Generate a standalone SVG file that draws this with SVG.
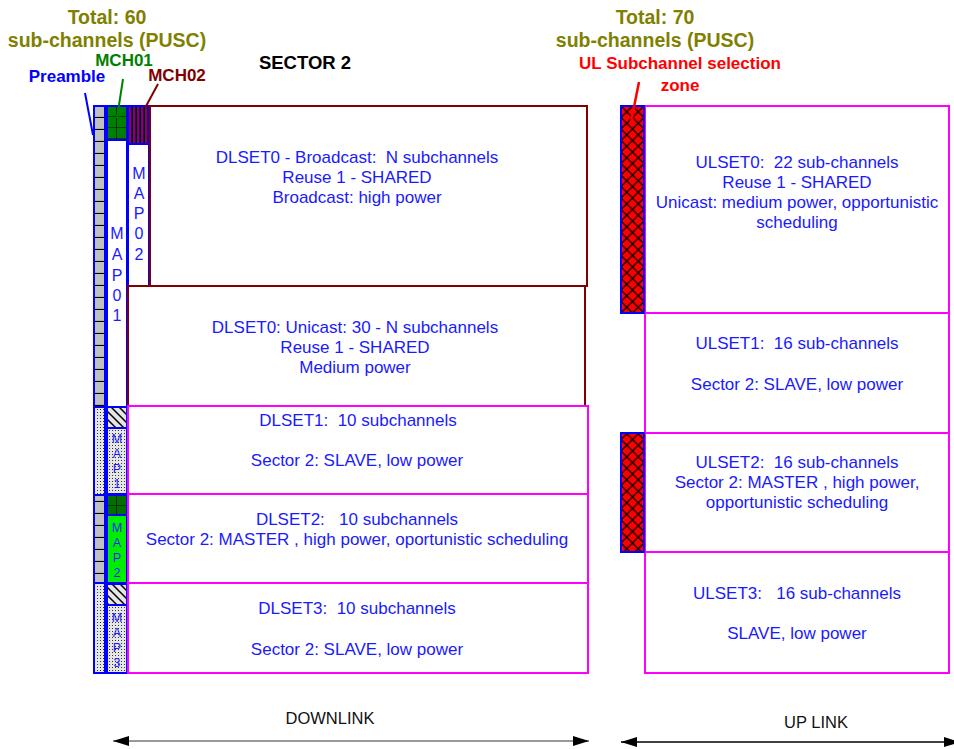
<svg xmlns="http://www.w3.org/2000/svg" width="954" height="749" viewBox="0 0 954 749">
<style>
text{font-family:"Liberation Sans",Arial,sans-serif;white-space:pre}
.t{font-size:17px;fill:#1a1aff;text-anchor:middle}
.m{font-size:16px;fill:#1a1aff;text-anchor:middle}
.s{font-size:12.5px;fill:#1a1aff;text-anchor:middle}
.h{font-size:19.5px;font-weight:bold;fill:#808000;text-anchor:middle}
.b{font-size:17px;font-weight:bold;text-anchor:middle}
.dl{fill:none;stroke:#800000;stroke-width:2}
.mg{fill:none;stroke:#ff00ff;stroke-width:2}
.bl{stroke:#0000ff;stroke-width:2}
.lbl{font-size:16.5px;fill:#111;text-anchor:middle}
</style>
<defs>
<pattern id="pre" patternUnits="userSpaceOnUse" x="0" y="106" width="12" height="12">
<rect width="12" height="12" fill="#c0c0c0"/><line x1="0" y1="11.5" x2="12" y2="11.5" stroke="#000" stroke-width="1.2"/>
</pattern>
<pattern id="dots" patternUnits="userSpaceOnUse" width="3" height="3">
<rect width="3" height="3" fill="#e6e6e6"/><rect x="1" y="1" width="1" height="1" fill="#333"/>
</pattern>
<pattern id="hatch" patternUnits="userSpaceOnUse" width="8" height="8">
<rect width="8" height="8" fill="#e6e6e6"/><path d="M-2,-2 L10,10 M-2,6 L2,10 M6,-2 L10,2" stroke="#000" stroke-width="1.5"/>
</pattern>
<pattern id="grid" patternUnits="userSpaceOnUse" x="107" y="106" width="10" height="11">
<rect width="10" height="11" fill="#008000"/><path d="M10,0 V11 M0,11 H10" stroke="#000" stroke-width="1.2"/>
</pattern>
<pattern id="grid2" patternUnits="userSpaceOnUse" x="107" y="495" width="10" height="11">
<rect width="10" height="11" fill="#007000"/><path d="M10,0 V11 M0,11 H10" stroke="#000" stroke-width="1.2"/>
</pattern>
<pattern id="stripe" patternUnits="userSpaceOnUse" x="129" y="0" width="4" height="10">
<rect width="4" height="10" fill="#800080"/><rect x="2.5" width="1.5" height="10" fill="#000"/>
</pattern>
<pattern id="redx" patternUnits="userSpaceOnUse" x="621" y="106" width="11.5" height="11.5">
<rect width="11.5" height="11.5" fill="#ff0000"/><path d="M0,0 L11.5,11.5 M11.5,0 L0,11.5" stroke="#000" stroke-width="1.3"/>
</pattern>
<marker id="ah" viewBox="0 0 16 10" refX="16" refY="5" markerWidth="16" markerHeight="10" markerUnits="userSpaceOnUse" orient="auto-start-reverse">
<path d="M0,0 L16,5 L0,10 Z" fill="#000"/>
</marker>
</defs>

<g id="headers">
<text class="h" x="107" y="24">Total: 60</text>
<text class="h" x="107" y="47">sub-channels (PUSC)</text>
<text class="b" x="124" y="66" fill="#008000">MCH01</text>
<text class="b" x="67" y="82" fill="#0000ff">Preamble</text>
<text class="b" x="177" y="81" fill="#800000">MCH02</text>
<text class="b" x="305" y="69" fill="#000" style="font-size:18.5px">SECTOR 2</text>
<text class="h" x="655" y="24">Total: 70</text>
<text class="h" x="655" y="47">sub-channels (PUSC)</text>
<text class="b" x="680" y="69" fill="#ff0000">UL Subchannel selection</text>
<text class="b" x="680" y="91" fill="#ff0000">zone</text>
</g>

<g id="preamble">
<rect x="94" y="106" width="11" height="301" fill="url(#pre)" class="bl"/>
<rect x="94" y="407" width="11" height="88" fill="url(#dots)" class="bl"/>
<rect x="94" y="495" width="11" height="88" fill="url(#pre)" class="bl"/>
<rect x="94" y="583" width="11" height="90" fill="url(#dots)" class="bl"/>
</g>

<g id="map01">
<rect x="107" y="106" width="20" height="301" fill="#fff" class="bl"/>
<rect x="107" y="106" width="20" height="34" fill="url(#grid)" class="bl"/>
<text class="m" x="117" y="239">M</text>
<text class="m" x="117" y="260">A</text>
<text class="m" x="117" y="281">P</text>
<text class="m" x="117" y="301">0</text>
<text class="m" x="117" y="321">1</text>
</g>

<g id="map02">
<rect x="128" y="106" width="21" height="180" fill="#fff" class="bl"/>
<rect x="128" y="106" width="21" height="38" fill="url(#stripe)" class="bl"/>
<text class="m" x="139" y="179">M</text>
<text class="m" x="139" y="199">A</text>
<text class="m" x="139" y="219">P</text>
<text class="m" x="139" y="239">0</text>
<text class="m" x="139" y="260">2</text>
</g>

<g id="map1">
<rect x="107" y="407" width="20" height="21" fill="url(#hatch)" class="bl"/>
<rect x="107" y="428" width="20" height="66" fill="url(#dots)" class="bl"/>
<text class="s" x="117" y="443">M</text>
<text class="s" x="117" y="458">A</text>
<text class="s" x="117" y="473">P</text>
<text class="s" x="117" y="488">1</text>
</g>

<g id="map2">
<rect x="107" y="495" width="20" height="20" fill="url(#grid2)" class="bl"/>
<rect x="107" y="515" width="20" height="68" fill="#00ee00" class="bl"/>
<text class="s" x="117" y="532">M</text>
<text class="s" x="117" y="547">A</text>
<text class="s" x="117" y="562">P</text>
<text class="s" x="117" y="577">2</text>
</g>

<g id="map3">
<rect x="107" y="584" width="20" height="21" fill="url(#hatch)" class="bl"/>
<rect x="107" y="605" width="20" height="68" fill="url(#dots)" class="bl"/>
<text class="s" x="117" y="622">M</text>
<text class="s" x="117" y="637">A</text>
<text class="s" x="117" y="652">P</text>
<text class="s" x="117" y="667">3</text>
</g>

<g id="dlset0-broadcast">
<rect x="150" y="106" width="437" height="180" class="dl"/>
<text class="t" x="357" y="163">DLSET0 - Broadcast:  N subchannels</text>
<text class="t" x="357" y="183">Reuse 1 - SHARED</text>
<text class="t" x="357" y="203">Broadcast: high power</text>
</g>

<g id="dlset0-unicast">
<rect x="128" y="286" width="457" height="120" class="dl"/>
<text class="t" x="355" y="333">DLSET0: Unicast: 30 - N subchannels</text>
<text class="t" x="355" y="353">Reuse 1 - SHARED</text>
<text class="t" x="355" y="373">Medium power</text>
</g>

<g id="dlset1">
<rect x="128" y="406" width="460" height="88" class="mg"/>
<text class="t" x="358" y="426">DLSET1:  10 subchannels</text>
<text class="t" x="357" y="466">Sector 2: SLAVE, low power</text>
</g>

<g id="dlset2">
<rect x="128" y="494" width="460" height="89" class="mg"/>
<text class="t" x="357" y="525">DLSET2:   10 subchannels</text>
<text class="t" x="357" y="545">Sector 2: MASTER , high power, oportunistic scheduling</text>
</g>

<g id="dlset3">
<rect x="128" y="583" width="460" height="90" class="mg"/>
<text class="t" x="357" y="614">DLSET3:  10 subchannels</text>
<text class="t" x="357" y="655">Sector 2: SLAVE, low power</text>
</g>

<g id="ulset0">
<rect x="645" y="106" width="304" height="207" class="mg"/>
<text class="t" x="797" y="168">ULSET0:  22 sub-channels</text>
<text class="t" x="797" y="188">Reuse 1 - SHARED</text>
<text class="t" x="797" y="208">Unicast: medium power, opportunistic</text>
<text class="t" x="797" y="228">scheduling</text>
</g>

<g id="ulset1">
<rect x="645" y="313" width="304" height="120" class="mg"/>
<text class="t" x="797" y="349">ULSET1:  16 sub-channels</text>
<text class="t" x="797" y="390">Sector 2: SLAVE, low power</text>
</g>

<g id="ulset2">
<rect x="645" y="433" width="304" height="119" class="mg"/>
<text class="t" x="797" y="468">ULSET2:  16 sub-channels</text>
<text class="t" x="797" y="488">Sector 2: MASTER , high power,</text>
<text class="t" x="797" y="508">opportunistic scheduling</text>
</g>

<g id="ulset3">
<rect x="645" y="552" width="304" height="121" class="mg"/>
<text class="t" x="797" y="599">ULSET3:   16 sub-channels</text>
<text class="t" x="797" y="639">SLAVE, low power</text>
</g>

<g id="ul-zones">
<rect x="621" y="106" width="23" height="207" fill="url(#redx)" class="bl"/>
<rect x="621" y="433" width="23" height="119" fill="url(#redx)" class="bl"/>
</g>

<g id="connectors">
<line x1="85" y1="93" x2="93" y2="135" stroke="#0000ff" stroke-width="2"/>
<line x1="123" y1="79" x2="117" y2="118" stroke="#008000" stroke-width="2"/>
<line x1="158" y1="84" x2="145" y2="108" stroke="#800000" stroke-width="2"/>
<line x1="639" y1="82" x2="631" y2="122" stroke="#ff0000" stroke-width="2.5"/>
<line x1="113" y1="741" x2="589" y2="741" stroke="#777" stroke-width="1.5" marker-start="url(#ah)" marker-end="url(#ah)"/>
<line x1="621" y1="742" x2="960" y2="742" stroke="#000" stroke-width="1.5" marker-start="url(#ah)" marker-end="url(#ah)"/>
</g>

<g id="axis-labels">
<text class="lbl" x="330" y="724">DOWNLINK</text>
<text class="lbl" x="816" y="728">UP LINK</text>
</g>
</svg>
